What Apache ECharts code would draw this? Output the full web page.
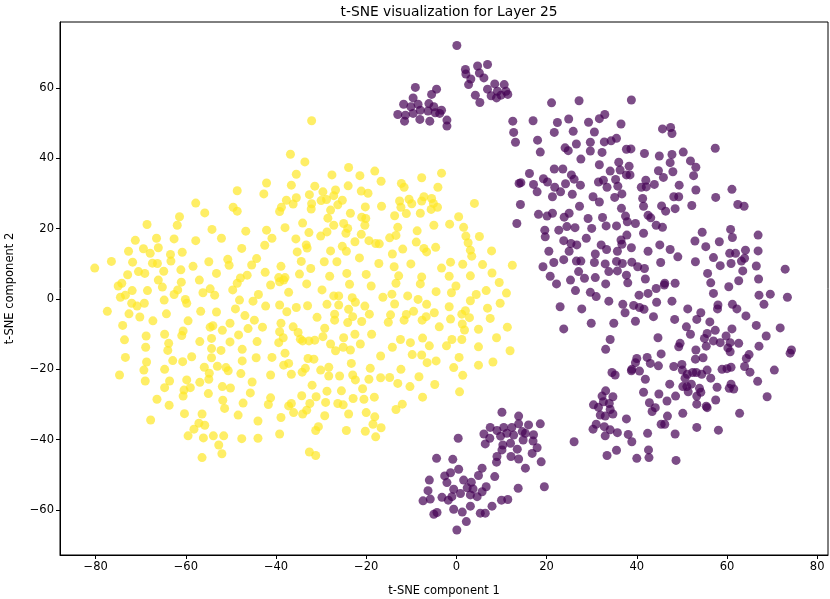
<!DOCTYPE html>
<html>
<head>
<meta charset="utf-8">
<script src="https://cdn.jsdelivr.net/npm/echarts@6/dist/echarts.min.js"></script>
<style>
  html, body { margin: 0; padding: 0; background: #fff; }
  #chart { width: 830px; height: 599px; }
</style>
</head>
<body>
<div id="chart"></div>
<script>
// t-SNE coordinates, [component 1, component 2]
var yellowPoints = [
    [-32.1,50.7],[-36.8,41.2],[-33.6,39.0],[-23.9,37.4],[-35.5,35.5],[-27.6,35.3],[-21.4,35.1],[-18.1,36.4],
    [-3.3,35.8],[-7.7,34.5],[-16.7,33.5],[-42.1,33.0],[-42.7,29.9],[-36.6,32.4],[-31.4,32.1],[-24.0,32.2],
    [-12.2,32.9],[-11.6,31.8],[-4.1,31.8],[-29.6,30.5],[-26.8,31.0],[-21.1,30.7],[-19.6,30.1],[-32.6,29.7],
    [-37.7,28.1],[-35.5,28.8],[-36.2,27.0],[-38.8,26.1],[-39.2,24.9],[-32.1,27.1],[-30.0,28.0],[-28.8,28.3],
    [-27.2,29.4],[-26.3,26.8],[-25.3,28.1],[-27.9,25.3],[-32.2,25.6],[-23.5,24.4],[-20.2,26.2],[-16.6,26.4],
    [-12.6,27.9],[-10.5,28.4],[-9.9,27.1],[-12.3,26.1],[-11.1,24.3],[-8.0,24.4],[-7.7,27.9],[-7.2,29.1],
    [-5.5,28.6],[-5.1,27.2],[-5.6,25.5],[-4.2,26.1],[4.0,27.2],[-28.5,23.0],[-21.0,23.3],[-20.1,22.9],
    [-13.7,23.7],[0.5,23.4],[-1.5,21.3],[-5.0,21.0],[1.6,20.4],[-42.1,19.6],[-38.0,20.3],[-34.1,21.6],
    [-27.2,21.0],[-25.0,21.5],[-24.1,20.1],[-20.3,21.0],[-13.0,20.4],[-8.7,19.4],[-40.9,17.3],[-35.6,17.1],
    [-32.7,18.9],[-30.1,17.9],[-28.7,19.1],[-24.5,18.7],[-21.1,18.4],[-14.8,17.4],[-13.4,18.1],[2.1,17.9],
    [5.1,17.8],[-42.5,15.3],[-33.3,15.4],[-27.9,13.7],[-25.3,15.0],[-24.4,13.6],[-22.5,16.3],[-19.4,16.6],
    [-17.9,15.8],[-17.1,15.7],[-14.2,12.8],[-11.9,14.2],[-8.9,16.2],[-7.2,14.4],[-6.6,13.4],[-4.6,14.7],
    [2.6,16.0],[3.1,13.9],[3.4,12.2],[7.8,13.7],[-35.3,13.4],[-33.1,14.5],[-38.9,9.3],[-34.4,10.7],
    [-32.3,8.7],[-29.3,10.6],[-26.5,10.6],[-21.5,11.7],[-17.2,10.1],[-13.8,9.2],[-10.1,10.0],[-3.3,8.8],
    [-1.3,10.5],[1.4,9.9],[5.8,9.8],[12.4,9.6],[-42.4,7.6],[-34.8,7.1],[-28.1,6.5],[-24.3,7.3],
    [-20.0,7.0],[-12.8,6.6],[-7.7,6.3],[-1.6,6.5],[3.1,6.6],[7.9,7.4],[-39.4,6.1],[-38.0,6.1],
    [-48.6,30.8],[-57.8,27.3],[-55.8,24.5],[-49.5,26.1],[-48.6,25.0],[-61.4,23.4],[-61.9,21.0],[-68.6,21.2],
    [-54.2,19.8],[-46.7,19.3],[-71.2,16.7],[-66.5,17.3],[-62.6,17.1],[-57.8,16.6],[-52.1,17.3],[-72.7,13.6],
    [-69.4,14.3],[-66.1,14.6],[-67.9,13.0],[-63.4,12.7],[-60.8,13.3],[-47.6,14.4],[-76.5,10.7],[-80.2,8.8],
    [-71.8,10.5],[-67.4,10.2],[-66.3,10.1],[-63.3,10.8],[-58.4,9.3],[-54.9,10.6],[-50.7,11.3],[-50.4,9.6],
    [-44.3,11.5],[-45.4,9.7],[-72.9,6.9],[-70.5,7.8],[-69.1,7.3],[-64.9,7.9],[-61.1,8.3],[-53.2,7.3],
    [-46.4,6.8],[-47.9,6.0],
    [-74.2,4.5],[-75.0,3.7],[-71.9,2.4],[-68.5,2.4],[-66.1,5.4],[-65.2,3.4],[-61.0,4.8],[-61.8,2.6],
    [-62.6,1.3],[-57.0,5.4],[-56.2,1.8],[-54.6,2.9],[-53.6,1.1],[-48.6,4.5],[-49.6,2.6],[-43.9,1.3],
    [-74.5,0.5],[-73.4,1.1],[-72.0,-1.2],[-70.8,-2.0],[-69.2,-1.2],[-64.8,-0.3],[-60.1,-0.1],[-59.8,-1.2],
    [-48.1,-0.3],[-45.1,-0.6],[-77.4,-3.5],[-72.6,-4.2],[-70.2,-5.1],[-64.3,-4.2],[-56.7,-3.5],[-53.2,-3.7],
    [-49.0,-2.8],[-46.9,-4.7],[-44.8,-6.0],[-74.0,-7.5],[-67.3,-6.2],[-59.5,-6.2],[-54.6,-8.0],[-54.0,-7.6],
    [-51.9,-8.9],[-50.2,-6.9],[-46.2,-8.4],[-73.6,-11.6],[-68.8,-10.5],[-64.7,-10.0],[-60.6,-9.1],[-60.9,-10.4],
    [-63.8,-12.6],[-56.9,-12.1],[-54.3,-11.2],[-50.2,-12.2],[-48.3,-10.2],[-44.2,-12.1],[-68.9,-13.7],[-64.0,-14.6],
    [-54.3,-14.1],[-52.2,-14.6],[-47.5,-14.3],[-73.4,-16.6],[-68.7,-17.9],[-62.9,-17.5],[-60.7,-17.8],[-58.7,-16.4],
    [-54.3,-16.7],[-47.5,-17.6],[-44.4,-16.7],[-69.3,-20.2],[-74.7,-21.6],[-64.7,-20.0],[-55.9,-19.4],[-53.0,-19.1],
    [-51.1,-19.5],[-50.6,-20.4],[-54.8,-21.1],[-47.8,-21.2],[-69.0,-23.3],[-63.6,-23.3],[-59.8,-23.0],[-56.9,-23.7],
    [-54.9,-22.8],[-45.3,-23.6],[-64.7,-25.2],[-60.4,-25.9],[-60.6,-27.6],[-59.0,-25.2],[-55.0,-26.9],[-51.9,-24.9],
    [-50.1,-25.3],[-45.7,-26.7],[-66.4,-28.5],[-51.8,-28.8],[-63.7,-30.2],[-51.4,-31.1],[-47.3,-29.6],[-60.3,-32.6],
    [-56.4,-32.7],[-48.4,-33.0],[-67.8,-34.4],[-57.1,-35.3],[-55.8,-35.9],[-58.2,-37.0],[-44.0,-34.7],[-59.5,-38.9],
    [-56.1,-39.5],[-53.9,-38.9],[-51.6,-38.9],[-47.6,-39.7],[-44.0,-39.6],[-52.7,-41.5],[-52.0,-44.0],[-56.4,-45.1],
    [-41.2,4.0],[-39.2,4.9],[-38.3,5.4],[-37.2,1.9],[-33.2,4.3],[-29.8,2.6],[-27.2,0.9],[-26.1,0.9],
    [-23.7,4.2],[-23.1,0.4],[-22.4,-0.9],[-18.9,3.7],[-16.3,0.5],[-14.3,1.4],[-13.7,-1.4],[-13.4,4.5],
    [-10.8,0.9],[-8.5,-0.1],[-8.0,4.3],[-6.6,-1.5],[-4.5,2.1],[-1.1,1.8],[-0.1,3.7],[3.1,-0.5],
    [4.4,1.3],[6.6,2.4],[9.7,-1.2],[11.1,1.7],[9.5,4.7],[-42.3,-2.0],[-39.2,-1.7],[-37.6,-3.6],
    [-35.5,-2.4],[-33.0,-1.9],[-30.9,-5.2],[-28.7,-1.5],[-27.0,-4.3],[-27.0,-6.0],[-26.1,-1.7],[-23.9,-2.9],
    [-24.1,-6.7],[-23.0,-5.0],[-21.0,-6.4],[-19.3,-4.3],[-20.3,-2.0],[-14.6,-4.5],[-15.1,-6.6],[-11.1,-4.4],
    [-11.6,-6.0],[-9.5,-3.5],[-7.6,-6.0],[-6.7,-5.0],[-4.9,-3.9],[-3.8,-7.9],[-1.6,-2.2],[-1.3,-5.7],
    [1.2,-4.3],[2.0,-3.3],[2.9,-5.3],[1.3,-7.1],[1.8,-8.8],[4.9,-8.6],[6.9,-2.6],[7.5,-5.5],
    [11.3,-8.0],[8.9,-11.0],[11.9,-14.7],[-43.0,-8.0],[-38.9,-6.9],[-39.2,-9.3],[-38.4,-11.0],[-36.2,-7.9],
    [-35.1,-9.5],[-34.6,-11.4],[-34.1,-11.9],[-39.4,-12.4],[-32.7,-11.9],[-31.4,-11.7],[-29.6,-10.7],[-29.2,-8.3],
    [-27.9,-12.8],[-26.8,-14.7],[-25.0,-11.0],[-25.1,-13.7],[-23.5,-14.5],[-22.5,-10.0],[-21.3,-12.8],[-18.8,-10.0],
    [-16.8,-16.2],[-14.2,-13.7],[-12.4,-11.5],[-10.2,-12.4],[-9.8,-15.8],[-7.5,-11.1],[-6.0,-13.3],[-7.7,-15.9],
    [-6.5,-18.1],[-4.5,-17.6],[-2.2,-13.3],[-1.0,-11.5],[1.2,-11.5],[0.6,-16.6],[-0.6,-19.5],[4.9,-13.6],
    [4.9,-18.8],[8.1,-17.9],[1.4,-21.7],[0.7,-26.4],[-40.9,-16.6],[-38.0,-15.4],[-38.3,-18.8],[-37.2,-18.3],
    [-36.6,-21.4],[-41.2,-21.6],[-34.2,-20.8],[-33.5,-19.7],[-32.9,-16.9],[-31.6,-17.1],[-30.1,-20.2],[-28.3,-19.4],
    [-28.3,-21.9],[-25.9,-21.9],[-23.3,-18.3],[-23.0,-21.6],[-22.4,-23.0],[-19.4,-22.8],[-19.1,-19.7],[-16.8,-22.4],
    [-14.8,-22.3],[-13.0,-24.0],[-12.3,-20.0],[-10.3,-24.9],[-8.3,-22.1],[-4.8,-24.3],[-7.5,-27.9],[-32.0,-24.5],
    [-28.7,-26.2],[-25.5,-26.1],[-20.8,-25.5],[-20.5,-28.5],[-18.2,-27.9],[-22.9,-28.3],[-26.3,-29.7],[-25.1,-30.1],
    [-29.0,-29.4],[-31.1,-27.8],[-34.3,-27.5],[-41.2,-28.1],[-41.7,-30.0],[-37.2,-30.4],[-36.1,-32.3],[-34.1,-32.7],
    [-33.2,-31.6],[-32.5,-29.7],[-36.6,-29.7],[-29.2,-33.2],[-23.9,-32.7],[-20.0,-32.3],[-18.1,-33.5],[-13.4,-31.4],
    [-12.0,-29.9],[-38.9,-33.7],[-31.2,-37.4],[-30.6,-36.3],[-24.4,-37.4],[-20.2,-37.6],[-18.5,-35.6],[-16.7,-36.6],
    [-17.9,-39.2],[-39.2,-38.4],[-32.6,-43.5],[-31.2,-44.5]
];

// large purple group on the right
var purpleMain = [
    [12.5,50.6],[12.7,47.4],[13.1,44.6],[13.9,32.9],[14.2,26.9],[13.4,21.5],
    [21.1,55.8],[27.2,56.4],[38.8,56.6],[17.0,50.7],[22.4,50.2],[24.9,51.2],[29.3,50.3],[31.7,51.3],
    [32.9,52.5],[36.5,49.8],[21.7,47.4],[25.9,47.7],[30.6,47.5],[45.7,48.4],[47.5,48.8],[47.8,47.1],
    [18.0,45.2],[18.6,41.8],[24.1,43.0],[24.8,42.2],[26.6,44.1],[29.7,44.6],[29.7,42.1],[32.3,41.7],
    [32.8,44.7],[34.3,45.0],[35.5,45.7],[37.7,42.6],[38.7,42.7],[41.7,41.4],[45.0,40.7],[47.8,41.1],
    [50.3,41.8],[57.4,42.9],[27.6,39.8],[31.7,38.2],[36.0,38.9],[38.3,37.8],[47.4,38.8],[51.9,39.3],
    [53.1,37.5],[16.2,35.7],[21.7,37.0],[23.6,37.0],[34.1,36.4],[36.3,36.7],[44.8,36.5],[48.0,36.2],
    [14.3,33.1],[17.1,32.6],[19.3,34.2],[20.2,33.3],[25.5,35.3],[26.1,34.1],[27.5,32.4],[31.5,33.3],
    [32.6,33.8],[33.4,31.8],[35.3,34.0],[35.8,32.1],[37.7,35.3],[38.5,35.3],[42.0,33.8],[41.0,31.8],
    [42.1,31.9],[43.9,32.6],[45.9,34.6],[49.4,32.4],[52.6,35.1],[53.1,31.0],[17.9,30.5],[21.8,31.8],
    [24.2,32.8],[23.1,30.5],[21.3,29.1],[25.7,29.8],[30.3,29.1],[31.7,27.6],[35.1,28.9],[36.7,29.9],
    [41.3,28.6],[41.5,26.4],[45.5,26.5],[46.4,25.0],[48.2,29.1],[49.3,29.1],[48.5,25.7],[52.2,26.6],
    [57.5,28.9],[61.1,31.2],[62.4,26.9],[63.8,26.4],[18.2,24.1],[20.1,23.6],[21.3,24.4],[23.9,23.3],
    [25.0,24.4],[27.3,26.4],[29.2,22.9],[32.4,23.2],[33.2,20.8],[35.5,20.8],[36.6,25.8],[37.5,23.6],
    [37.9,22.0],[39.7,21.5],[42.5,23.8],[43.1,23.1],[44.3,21.0],[45.7,20.4],[41.5,18.7],[19.6,19.6],
    [19.7,17.7],[22.7,19.6],[24.5,20.6],[26.3,20.3],[30.0,20.1],[28.8,17.3],[23.8,16.6],[25.4,15.8],
    [26.7,15.4],[32.1,15.4],[33.3,14.1],[36.5,16.8],[36.7,15.6],[37.8,18.2],[38.8,14.6],[20.5,13.6],
    [25.0,13.6],[30.8,12.8],[35.7,13.6],[42.5,13.6],[45.1,15.4],[47.4,14.1],[49.1,12.0],[52.9,16.5],
    [54.5,19.0],[55.3,14.9],[57.0,11.8],[58.3,16.3],[60.8,19.8],[61.2,17.5],[60.6,13.0],[61.9,13.0],
    [64.1,13.9],[63.9,11.6],[66.9,18.2],[66.9,13.7],[72.9,8.5],[19.2,9.2],[21.6,10.4],[23.8,11.2],
    [26.6,10.8],[27.6,10.8],[30.6,10.4],[33.0,10.0],[35.5,10.7],[36.8,10.1],[38.9,10.5],[40.2,9.2],
    [41.7,8.7],[45.3,10.4],[53.0,10.6],[58.5,9.5],[60.9,10.1],[63.2,10.8],[63.5,8.0],[66.5,9.4],
    [20.8,6.5],[27.1,7.8],[28.4,5.9],[30.8,6.1],[33.8,7.8],[35.7,8.0],[37.7,6.8],[41.9,5.7],
    [55.7,7.3],[56.4,4.6],[62.6,5.2],[67.0,5.7],[22.2,4.3],[25.3,5.4],[33.1,4.3],[38.0,4.6],
    [46.2,4.5],[48.5,4.5],[60.4,3.5],
    [26.4,2.4],[29.7,1.9],[31.0,0.7],[23.0,-2.2],[27.8,-2.8],[33.8,-0.6],[36.9,-1.5],[37.4,-3.9],
    [39.3,-1.8],[40.6,-2.4],[41.6,-2.9],[40.5,1.1],[42.5,1.6],[44.3,3.0],[46.1,4.0],[44.4,-0.9],
    [43.7,-5.0],[47.8,-0.6],[39.7,-6.3],[34.9,-6.9],[29.9,-6.9],[23.8,-8.5],[48.4,-5.8],[51.3,-2.8],
    [53.3,-5.8],[54.2,-3.9],[51.0,-7.9],[51.9,-10.0],[56.2,-6.5],[57.4,-8.9],[57.9,-2.8],[58.0,-1.7],
    [57.0,1.6],[61.1,-8.5],[61.2,-1.5],[62.2,-2.8],[64.2,-4.8],[66.5,-7.5],[68.2,-1.5],[67.1,1.1],
    [69.6,1.4],[73.4,0.5],[71.8,-8.2],[68.7,-10.5],[74.3,-14.5],[74.0,-15.4],[67.1,-13.4],[64.9,-15.8],
    [63.9,-19.2],[65.1,-20.8],[64.3,-16.9],[60.7,-12.4],[60.2,-13.9],[62.6,-12.6],[60.7,-15.0],[58.9,-20.0],
    [60.0,-19.8],[60.9,-19.4],[60.9,-24.2],[61.5,-25.6],[60.5,-25.4],[66.8,-23.4],[70.5,-20.2],[68.9,-27.8],
    [62.8,-32.5],[58.1,-37.3],[53.3,-36.5],[57.5,-28.7],[55.6,-30.9],[53.3,-29.9],[50.2,-32.5],[48.5,-38.4],
    [46.8,-33.3],[46.2,-35.6],[43.4,-32.0],[42.4,-38.2],[42.6,-42.9],[40.0,-45.3],[42.7,-45.1],[48.7,-45.9],
    [38.1,-38.5],[38.9,-40.6],[35.5,-43.0],[33.4,-44.5],[35.7,-38.0],[37.7,-34.1],[26.1,-40.6],
    [44.7,-11.0],[45.4,-15.6],[49.6,-12.6],[49.3,-13.6],[53.1,-14.5],[54.7,-16.7],[53.0,-17.1],[55.6,-20.2],
    [54.4,-21.4],[56.4,-22.5],[53.9,-25.4],[52.1,-24.2],[51.2,-21.4],[50.0,-18.6],[48.2,-19.2],[50.7,-22.5],
    [53.2,-20.9],[51.1,-24.9],[47.3,-24.2],[50.2,-24.9],[51.4,-26.4],[53.3,-27.6],[54.2,-26.5],[55.4,-30.5],
    [57.8,-25.1],[50.1,-20.2],[52.4,-20.9],[48.6,-27.6],[46.7,-29.0],[44.9,-27.0],[42.8,-29.5],[44.1,-30.9],
    [45.4,-35.6],[41.5,-26.5],[41.9,-22.8],[39.7,-18.1],[38.9,-20.0],[40.0,-16.9],[42.3,-16.6],[43.0,-18.3],
    [44.8,-19.0],[40.6,-20.5],[38.8,-20.4],[34.5,-20.9],[35.2,-21.6],[33.1,-14.3],[34.1,-11.5],[55.0,-11.2],
    [55.6,-9.8],[55.4,-13.4],[57.0,-11.9],[58.5,-12.4],[59.8,-10.5],
    [33.1,-26.1],[32.3,-27.6],[30.4,-30.1],[31.5,-30.8],[32.6,-29.2],[33.9,-29.7],[34.7,-27.8],[31.9,-33.0],
    [33.0,-33.3],[34.7,-32.7],[34.1,-31.4],[31.0,-35.6],[30.3,-37.0],[32.8,-36.3],[34.1,-37.2],[33.0,-38.9]
];

// small purple groups at the top
var purpleTopLeft = [
    [-9.1,60.2],[-4.4,59.7],[-9.6,57.2],[-5.5,58.2],[-11.7,55.4],[-10.1,54.7],[-8.5,55.4],[-6.1,55.6],
    [-5.0,54.7],[-13.0,52.5],[-11.3,52.3],[-9.6,52.8],[-8.0,53.7],[-6.3,53.5],[-4.7,53.0],[-3.3,53.7],
    [-11.5,50.6],[-8.1,51.1],[-5.9,50.6],[-3.7,52.8],[-2.1,50.9],[-2.1,49.2]
];
var purpleTopRight = [
    [0.1,72.1],[2.0,65.3],[2.1,64.0],[2.7,61.0],[3.2,62.6],[4.7,66.3],[5.1,64.3],[6.1,62.9],
    [6.9,66.7],[4.2,58.0],[5.2,55.9],[6.9,59.7],[7.7,57.8],[8.5,61.2],[9.1,59.1],[8.9,57.2],
    [10.6,61.0],[11.0,59.1],[11.4,58.2],[9.9,58.0]
];

// small purple groups at the bottom
var purpleBottom = [
    [10.1,-32.2],[13.8,-33.3],[7.5,-36.5],[9.0,-37.4],[10.5,-36.5],[12.3,-36.5],[13.8,-35.5],[16.0,-35.8],
    [18.6,-35.5],[6.1,-38.4],[7.4,-39.6],[9.8,-39.0],[11.2,-38.2],[12.7,-38.7],[14.6,-37.7],[15.3,-38.2],
    [17.1,-38.6],[6.4,-41.2],[10.3,-41.5],[12.0,-41.0],[14.8,-40.1],[17.0,-40.4],[17.9,-42.3],[10.1,-42.9],
    [13.5,-42.7],[16.8,-43.9],[9.0,-44.8],[8.9,-46.4],[12.1,-44.8],[13.8,-45.5],[18.8,-46.3],[15.3,-48.1],
    [19.5,-53.4],[13.7,-53.8],[0.4,-39.6],
    [-4.4,-45.3],[-0.8,-45.6],[0.5,-48.4],[5.7,-48.1],[4.9,-50.2],[8.5,-50.5],[-2.6,-50.3],[-1.3,-49.4],
    [-2.1,-52.2],[-6.0,-51.5],[1.6,-51.5],[3.3,-52.1],[2.4,-53.7],[-0.6,-54.1],[3.7,-54.0],[6.6,-53.4],
    [5.7,-54.8],[-6.3,-54.5],[0.9,-55.3],[-1.0,-56.2],[-1.8,-57.2],[-3.2,-56.4],[3.1,-55.7],[4.6,-56.2],
    [-5.8,-56.9],[-7.4,-57.4],[10.0,-57.2],[11.4,-57.0],[7.9,-58.9],[3.1,-58.9],[-0.6,-59.8],[1.3,-60.6],
    [5.3,-60.9],[6.4,-60.9],[-5.0,-61.2],[-4.3,-60.7],[2.2,-63.3],[0.1,-65.7]
];

var xTicks = [-80, -60, -40, -20, 0, 20, 40, 60, 80];
var yTicks = [-60, -40, -20, 0, 20, 40, 60];

var chart = echarts.init(document.getElementById('chart'));

function minusSign(v) {
    return String(v).replace('-', '\u2212');
}

var font = 'DejaVu Sans';

chart.setOption({
    animation: false,
    backgroundColor: '#fff',
    textStyle: { fontFamily: font },
    title: {
        text: 't-SNE visualization for Layer 25',
        left: 444,
        top: 0,
        textAlign: 'center',
        textStyle: { fontFamily: font, fontSize: 13.8, fontWeight: 'normal', color: '#000' }
    },
    grid: {
        left: 60, right: 2, top: 22, bottom: 44,
        outerBoundsMode: 'none',
        show: true, borderColor: '#000', borderWidth: 1, backgroundColor: 'transparent'
    },
    xAxis: {
        type: 'value',
        min: -87.9, max: 82.4,
        name: 't-SNE component 1',
        nameLocation: 'middle',
        nameGap: 30,
        nameTextStyle: { fontFamily: font, fontSize: 11.5, color: '#000' },
        axisLine: { show: true, onZero: false, lineStyle: { color: '#000', width: 1 } },
        axisTick: { show: true, length: 4, customValues: xTicks, lineStyle: { color: '#000' } },
        axisLabel: { customValues: xTicks, margin: 6, fontSize: 11.5, color: '#000', formatter: minusSign },
        splitLine: { show: false }
    },
    yAxis: {
        type: 'value',
        min: -72.8, max: 78.8,
        name: 't-SNE component 2',
        nameLocation: 'middle',
        nameGap: 44,
        nameTextStyle: { fontFamily: font, fontSize: 11.5, color: '#000' },
        axisLine: { show: true, onZero: false, lineStyle: { color: '#000', width: 1 } },
        axisTick: { show: true, length: 4, customValues: yTicks, lineStyle: { color: '#000' } },
        axisLabel: { customValues: yTicks, margin: 6, fontSize: 11.5, color: '#000', formatter: minusSign },
        splitLine: { show: false }
    },
    series: [
        {
            type: 'scatter', data: yellowPoints, symbolSize: 9,
            itemStyle: { color: '#fde725', opacity: 0.7 }
        },
        {
            type: 'scatter', data: purpleMain.concat(purpleTopLeft, purpleTopRight, purpleBottom), symbolSize: 9,
            itemStyle: { color: '#440154', opacity: 0.7 }
        }
    ]
});
</script>
</body>
</html>
